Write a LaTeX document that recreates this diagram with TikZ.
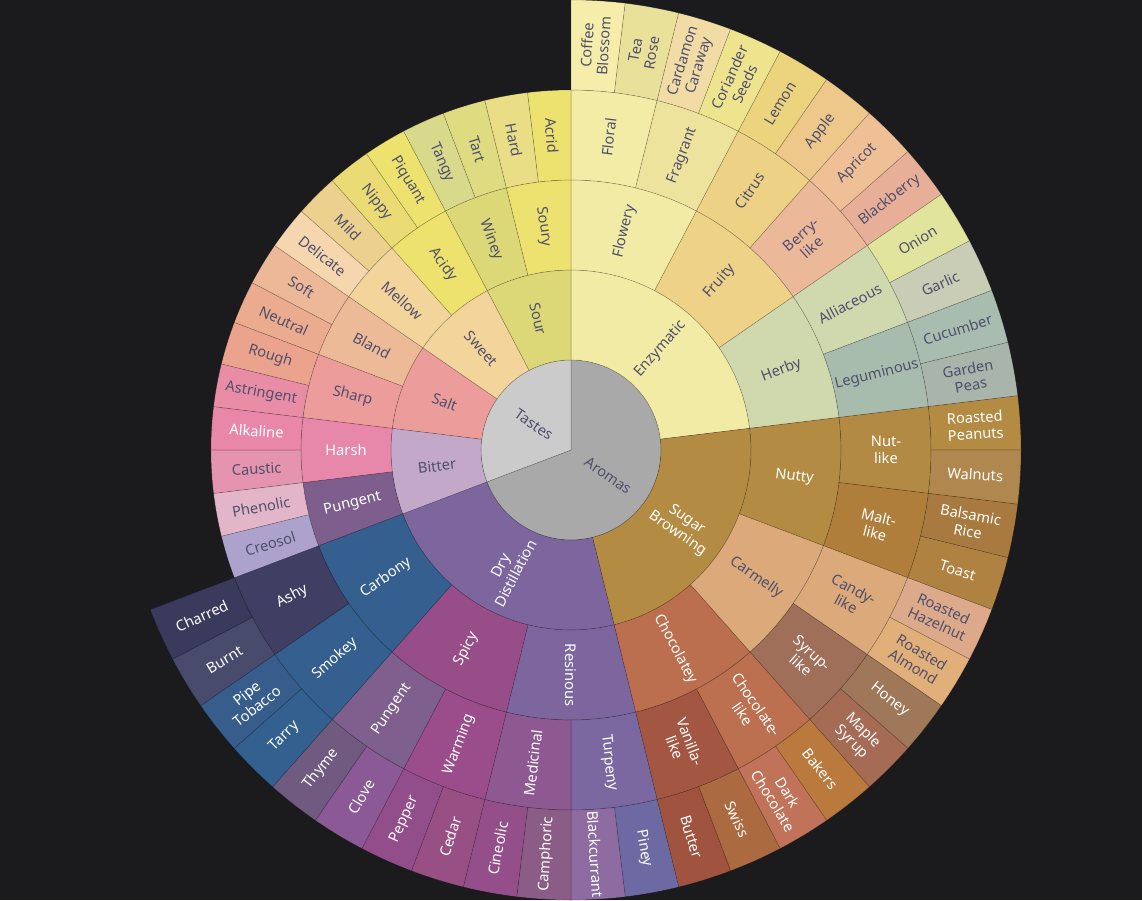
\documentclass[tikz,border=0pt]{standalone}
\usepackage{fontspec}
\setmainfont{Noto Sans}
\usepackage{tikz}

\definecolor{bgdark}{HTML}{1B1B1E}
\definecolor{lbldark}{HTML}{4F4F6C}
% centre
\definecolor{tastesc}{HTML}{CBCBCB}
\definecolor{aromasc}{HTML}{A9A9A9}
% ring 1
\definecolor{enzymc}{HTML}{F2EBA5}
\definecolor{sugarc}{HTML}{B38B43}
\definecolor{dryc}{HTML}{7D669E}
\definecolor{bitterc}{HTML}{C4A8C9}
\definecolor{saltc}{HTML}{ED9C9C}
\definecolor{sweetc}{HTML}{F3D59C}
\definecolor{sourc}{HTML}{DCD877}
% ring 2
\definecolor{floweryc}{HTML}{F2EBA5}
\definecolor{fruityc}{HTML}{EED287}
\definecolor{herbyc}{HTML}{D0D8AE}
\definecolor{nuttyc}{HTML}{B38B43}
\definecolor{carmellyc}{HTML}{DBA97A}
\definecolor{chococ}{HTML}{BB6F4F}
\definecolor{resinc}{HTML}{7D669E}
\definecolor{spicyc}{HTML}{974E88}
\definecolor{carbonyc}{HTML}{345F8E}
\definecolor{pungtc}{HTML}{7D5E8C}
\definecolor{harshc}{HTML}{E787A9}
\definecolor{sharpc}{HTML}{ED9C9C}
\definecolor{blandc}{HTML}{EDBA98}
\definecolor{mellowc}{HTML}{F3D59C}
\definecolor{acidyc}{HTML}{EDE26E}
\definecolor{wineyc}{HTML}{DCD877}
\definecolor{souryc}{HTML}{EDE170}
% ring 3
\definecolor{floralc}{HTML}{F3ECA7}
\definecolor{fragrantc}{HTML}{EEE39C}
\definecolor{citrusc}{HTML}{EDD286}
\definecolor{berryc}{HTML}{EBB89A}
\definecolor{alliac}{HTML}{D0D8AE}
\definecolor{legumc}{HTML}{A8BCAE}
\definecolor{nutlikec}{HTML}{B28A44}
\definecolor{maltc}{HTML}{B07E3B}
\definecolor{candyc}{HTML}{DBA97A}
\definecolor{syrupc}{HTML}{A06F59}
\definecolor{choclikec}{HTML}{BC7050}
\definecolor{vanillac}{HTML}{A35742}
\definecolor{turpc}{HTML}{7C68A1}
\definecolor{medic}{HTML}{8E5890}
\definecolor{warmc}{HTML}{9A4D8A}
\definecolor{pungac}{HTML}{7E5F8D}
\definecolor{smokeyc}{HTML}{345F8E}
\definecolor{ashyc}{HTML}{413E63}
\definecolor{creosolc}{HTML}{ACA2CC}
\definecolor{phenolc}{HTML}{E3B5C8}
\definecolor{causticc}{HTML}{E494AE}
\definecolor{alkalc}{HTML}{E987A8}
\definecolor{astrc}{HTML}{E98DA6}
\definecolor{roughc}{HTML}{EBA38D}
\definecolor{neutralc}{HTML}{EBAB8E}
\definecolor{softc}{HTML}{ECB898}
\definecolor{delicc}{HTML}{F5D6AF}
\definecolor{mildc}{HTML}{EBD08E}
\definecolor{nippyc}{HTML}{EBDB74}
\definecolor{piquc}{HTML}{EDE26E}
\definecolor{tangyc}{HTML}{D8D98A}
\definecolor{tartc}{HTML}{DEDB80}
\definecolor{hardc}{HTML}{E9DE86}
\definecolor{acridc}{HTML}{EDE170}
% ring 4
\definecolor{coffeec}{HTML}{F6EDAA}
\definecolor{tearosec}{HTML}{E9E09A}
\definecolor{cardac}{HTML}{F1DCA6}
\definecolor{corianc}{HTML}{EFE48E}
\definecolor{lemonc}{HTML}{ECD37E}
\definecolor{applec}{HTML}{EDC88A}
\definecolor{apricotc}{HTML}{EFC095}
\definecolor{blackbc}{HTML}{E8AF98}
\definecolor{onionc}{HTML}{E0E49C}
\definecolor{garlicc}{HTML}{C9CDB6}
\definecolor{cucumc}{HTML}{A8BDAF}
\definecolor{peasc}{HTML}{A9B5AA}
\definecolor{peanutc}{HTML}{B38B43}
\definecolor{walnutc}{HTML}{B0874E}
\definecolor{balsamc}{HTML}{A87A40}
\definecolor{toastc}{HTML}{B08241}
\definecolor{hazelc}{HTML}{DCAA8A}
\definecolor{almondc}{HTML}{E1AF79}
\definecolor{honeyc}{HTML}{9F7759}
\definecolor{maplec}{HTML}{A66B54}
\definecolor{bakersc}{HTML}{BA7A3E}
\definecolor{darkchc}{HTML}{C1735A}
\definecolor{swissc}{HTML}{AC6A40}
\definecolor{butterc}{HTML}{A0543F}
\definecolor{pineyc}{HTML}{6D6AA3}
\definecolor{blackcc}{HTML}{8E6CA2}
\definecolor{camphc}{HTML}{8B5C86}
\definecolor{cineolc}{HTML}{944F8A}
\definecolor{cedarc}{HTML}{974F84}
\definecolor{pepperc}{HTML}{924E8A}
\definecolor{clovec}{HTML}{8A5996}
\definecolor{thymec}{HTML}{705A80}
\definecolor{tarryc}{HTML}{33608F}
\definecolor{pipec}{HTML}{365D8C}
\definecolor{burntc}{HTML}{494B6D}
\definecolor{charredc}{HTML}{393A5C}

% one sunburst sector: [label style]{r in}{r out}{first leaf}{last leaf}{fill}{name}{text}
% leaves are counted clockwise from 12 o'clock, 52 leaves in all
\newcommand{\flavorseg}[8][lbl]{%
  \pgfmathsetmacro{\segA}{90-(#4)/52*360}%
  \pgfmathsetmacro{\segB}{90-(#5)/52*360}%
  \pgfmathsetmacro{\segM}{(\segA+\segB)/2}%
  \pgfmathsetmacro{\segR}{(#2+#3)/2}%
  \pgfmathsetmacro{\segRot}{\segM < -90.01 ? \segM+180 : \segM}%
  \draw[segline, fill=#6] (\segA:#2) arc[start angle=\segA, end angle=\segB, radius=#2]
      -- (\segB:#3) arc[start angle=\segB, end angle=\segA, radius=#3] -- cycle;
  \node[#1, rotate=\segRot] (#7) at (\segM:\segR) {#8};
}

\begin{document}
\begin{tikzpicture}[
    x=0.75pt, y=0.75pt,
    segline/.style={draw=black, draw opacity=0.2, line width=0.5pt},
    lbl/.style={text=lbldark, font=\fontsize{11}{12.5}\selectfont,
        align=center, inner sep=0pt},
    lblw/.style={lbl, text=white},
]

%% ============ CANVAS (1142 x 900 px, centre of the wheel at origin) ============
\path[use as bounding box, fill=bgdark] (-571,-450) rectangle (571,450);

%% ============ CENTRE ============
\flavorseg{0.01}{90}{0}{36}{aromasc}{aromas}{Aromas}
\flavorseg{0.01}{90}{36}{52}{tastesc}{tastes}{Tastes}

%% ============ RING 1 ============
\flavorseg{90}{180}{0}{12}{enzymc}{enzymatic}{Enzymatic}
\flavorseg[lblw]{90}{180}{12}{24}{sugarc}{sugarbrowning}{Sugar\\Browning}
\flavorseg[lblw]{90}{180}{24}{36}{dryc}{drydist}{Dry\\Distillation}
\flavorseg{90}{180}{36}{40}{bitterc}{bitter}{Bitter}
\flavorseg{90}{180}{40}{44}{saltc}{salt}{Salt}
\flavorseg{90}{180}{44}{48}{sweetc}{sweet}{Sweet}
\flavorseg{90}{180}{48}{52}{sourc}{sour}{Sour}

%% ============ RING 2 ============
\flavorseg{180}{270}{0}{4}{floweryc}{flowery}{Flowery}
\flavorseg{180}{270}{4}{8}{fruityc}{fruity}{Fruity}
\flavorseg{180}{270}{8}{12}{herbyc}{herby}{Herby}
\flavorseg[lblw]{180}{270}{12}{16}{nuttyc}{nutty}{Nutty}
\flavorseg{180}{270}{16}{20}{carmellyc}{carmelly}{Carmelly}
\flavorseg[lblw]{180}{270}{20}{24}{chococ}{chocolatey}{Chocolatey}
\flavorseg[lblw]{180}{270}{24}{28}{resinc}{resinous}{Resinous}
\flavorseg[lblw]{180}{270}{28}{32}{spicyc}{spicy}{Spicy}
\flavorseg[lblw]{180}{270}{32}{36}{carbonyc}{carbony}{Carbony}
\flavorseg[lblw]{180}{270}{36}{38}{pungtc}{pungentT}{Pungent}
\flavorseg[lblw]{180}{270}{38}{40}{harshc}{harsh}{Harsh}
\flavorseg{180}{270}{40}{42}{sharpc}{sharp}{Sharp}
\flavorseg{180}{270}{42}{44}{blandc}{bland}{Bland}
\flavorseg{180}{270}{44}{46}{mellowc}{mellow}{Mellow}
\flavorseg{180}{270}{46}{48}{acidyc}{acidy}{Acidy}
\flavorseg{180}{270}{48}{50}{wineyc}{winey}{Winey}
\flavorseg{180}{270}{50}{52}{souryc}{soury}{Soury}

%% ============ RING 3 ============
\flavorseg{270}{360}{0}{2}{floralc}{floral}{Floral}
\flavorseg{270}{360}{2}{4}{fragrantc}{fragrant}{Fragrant}
\flavorseg{270}{360}{4}{6}{citrusc}{citrus}{Citrus}
\flavorseg{270}{360}{6}{8}{berryc}{berrylike}{Berry-\\like}
\flavorseg{270}{360}{8}{10}{alliac}{alliaceous}{Alliaceous}
\flavorseg{270}{360}{10}{12}{legumc}{leguminous}{Leguminous}
\flavorseg[lblw]{270}{360}{12}{14}{nutlikec}{nutlike}{Nut-\\like}
\flavorseg[lblw]{270}{360}{14}{16}{maltc}{maltlike}{Malt-\\like}
\flavorseg{270}{360}{16}{18}{candyc}{candylike}{Candy-\\like}
\flavorseg[lblw]{270}{360}{18}{20}{syrupc}{syruplike}{Syrup-\\like}
\flavorseg[lblw]{270}{360}{20}{22}{choclikec}{choclike}{Chocolate-\\like}
\flavorseg[lblw]{270}{360}{22}{24}{vanillac}{vanillalike}{Vanilla-\\like}
\flavorseg[lblw]{270}{360}{24}{26}{turpc}{turpeny}{Turpeny}
\flavorseg[lblw]{270}{360}{26}{28}{medic}{medicinal}{Medicinal}
\flavorseg[lblw]{270}{360}{28}{30}{warmc}{warming}{Warming}
\flavorseg[lblw]{270}{360}{30}{32}{pungac}{pungentA}{Pungent}
\flavorseg[lblw]{270}{360}{32}{34}{smokeyc}{smokey}{Smokey}
\flavorseg[lblw]{270}{360}{34}{36}{ashyc}{ashy}{Ashy}
% tastes leaves end here
\flavorseg{270}{360}{36}{37}{creosolc}{creosol}{Creosol}
\flavorseg{270}{360}{37}{38}{phenolc}{phenolic}{Phenolic}
\flavorseg{270}{360}{38}{39}{causticc}{caustic}{Caustic}
\flavorseg[lblw]{270}{360}{39}{40}{alkalc}{alkaline}{Alkaline}
\flavorseg{270}{360}{40}{41}{astrc}{astringent}{Astringent}
\flavorseg{270}{360}{41}{42}{roughc}{rough}{Rough}
\flavorseg{270}{360}{42}{43}{neutralc}{neutral}{Neutral}
\flavorseg{270}{360}{43}{44}{softc}{soft}{Soft}
\flavorseg{270}{360}{44}{45}{delicc}{delicate}{Delicate}
\flavorseg{270}{360}{45}{46}{mildc}{mild}{Mild}
\flavorseg{270}{360}{46}{47}{nippyc}{nippy}{Nippy}
\flavorseg{270}{360}{47}{48}{piquc}{piquant}{Piquant}
\flavorseg{270}{360}{48}{49}{tangyc}{tangy}{Tangy}
\flavorseg{270}{360}{49}{50}{tartc}{tart}{Tart}
\flavorseg{270}{360}{50}{51}{hardc}{hard}{Hard}
\flavorseg{270}{360}{51}{52}{acridc}{acrid}{Acrid}

%% ============ RING 4 (aromas leaves only) ============
\flavorseg{360}{450}{0}{1}{coffeec}{coffeeblossom}{Coffee\\Blossom}
\flavorseg{360}{450}{1}{2}{tearosec}{tearose}{Tea\\Rose}
\flavorseg{360}{450}{2}{3}{cardac}{cardamon}{Cardamon\\Caraway}
\flavorseg{360}{450}{3}{4}{corianc}{coriander}{Coriander\\Seeds}
\flavorseg{360}{450}{4}{5}{lemonc}{lemon}{Lemon}
\flavorseg{360}{450}{5}{6}{applec}{apple}{Apple}
\flavorseg{360}{450}{6}{7}{apricotc}{apricot}{Apricot}
\flavorseg{360}{450}{7}{8}{blackbc}{blackberry}{Blackberry}
\flavorseg{360}{450}{8}{9}{onionc}{onion}{Onion}
\flavorseg{360}{450}{9}{10}{garlicc}{garlic}{Garlic}
\flavorseg{360}{450}{10}{11}{cucumc}{cucumber}{Cucumber}
\flavorseg{360}{450}{11}{12}{peasc}{gardenpeas}{Garden\\Peas}
\flavorseg[lblw]{360}{450}{12}{13}{peanutc}{peanuts}{Roasted\\Peanuts}
\flavorseg[lblw]{360}{450}{13}{14}{walnutc}{walnuts}{Walnuts}
\flavorseg[lblw]{360}{450}{14}{15}{balsamc}{balsamic}{Balsamic\\Rice}
\flavorseg[lblw]{360}{450}{15}{16}{toastc}{toast}{Toast}
\flavorseg{360}{450}{16}{17}{hazelc}{hazelnut}{Roasted\\Hazelnut}
\flavorseg{360}{450}{17}{18}{almondc}{almond}{Roasted\\Almond}
\flavorseg[lblw]{360}{450}{18}{19}{honeyc}{honey}{Honey}
\flavorseg[lblw]{360}{450}{19}{20}{maplec}{maplesyrup}{Maple\\Syrup}
\flavorseg[lblw]{360}{450}{20}{21}{bakersc}{bakers}{Bakers}
\flavorseg[lblw]{360}{450}{21}{22}{darkchc}{darkchoc}{Dark\\Chocolate}
\flavorseg[lblw]{360}{450}{22}{23}{swissc}{swiss}{Swiss}
\flavorseg[lblw]{360}{450}{23}{24}{butterc}{butter}{Butter}
\flavorseg[lblw]{360}{450}{24}{25}{pineyc}{piney}{Piney}
\flavorseg[lblw]{360}{450}{25}{26}{blackcc}{blackcurrant}{Blackcurrant}
\flavorseg[lblw]{360}{450}{26}{27}{camphc}{camphoric}{Camphoric}
\flavorseg[lblw]{360}{450}{27}{28}{cineolc}{cineolic}{Cineolic}
\flavorseg[lblw]{360}{450}{28}{29}{cedarc}{cedar}{Cedar}
\flavorseg[lblw]{360}{450}{29}{30}{pepperc}{pepper}{Pepper}
\flavorseg[lblw]{360}{450}{30}{31}{clovec}{clove}{Clove}
\flavorseg[lblw]{360}{450}{31}{32}{thymec}{thyme}{Thyme}
\flavorseg[lblw]{360}{450}{32}{33}{tarryc}{tarry}{Tarry}
\flavorseg[lblw]{360}{450}{33}{34}{pipec}{pipetobacco}{Pipe\\Tobacco}
\flavorseg[lblw]{360}{450}{34}{35}{burntc}{burnt}{Burnt}
\flavorseg[lblw]{360}{450}{35}{36}{charredc}{charred}{Charred}

\end{tikzpicture}
\end{document}
